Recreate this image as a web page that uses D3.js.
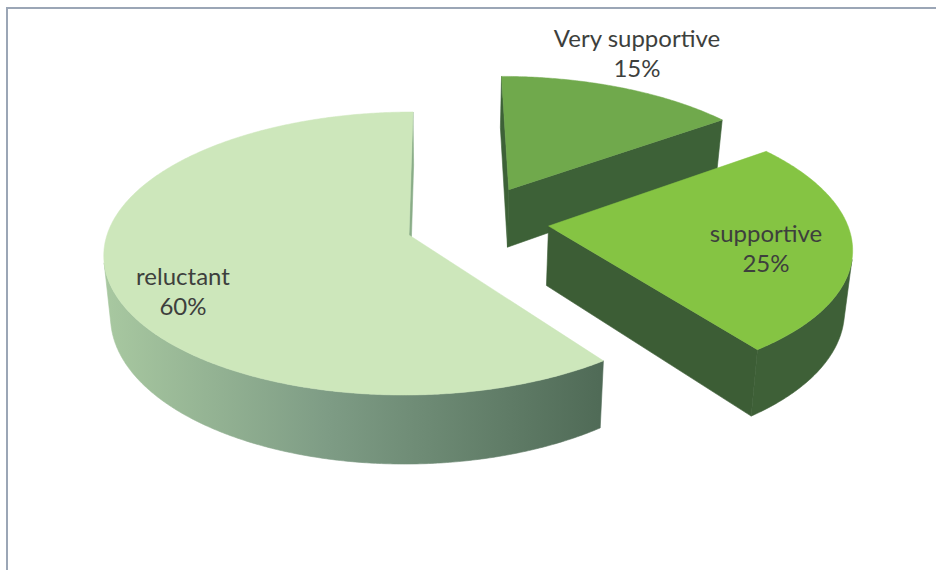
<!DOCTYPE html>
<html>
<head>
<meta charset="utf-8">
<script src="https://cdn.jsdelivr.net/npm/d3@7"></script>
<style>
  html, body { margin: 0; padding: 0; background: #fff; }
  svg { display: block; }
</style>
</head>
<body>
<svg id="chart" width="936" height="570"></svg>
<script>
// Attitude survey shares
const categories = ["Very supportive", "supportive", "reluctant"];
const shares = [15, 25, 60];
const valueLabels = ["15%", "25%", "60%"];

// Slice colours: top face, outer wall and radial cut faces
const topColors = ["#70a94c", "#85c443", "#cde7bb"];
const sideColors = ["#3f6339", "#3e6037", "url(#reluctantWall)"];
const cutColors = ["#3d6137", "#3c5d35", "#8aad88"];

const svg = d3.select("#chart");

// Perspective view of the pie plane: (u, v) are disc units, v grows toward the viewer.
const view = { x0: 443.6, y0: 235, a: 302, b: -34.6, c: 139.1, g: -0.1307, depth: 60, lean: 0.98 };
function topPt(u, v) {
  const w = 1 + view.g * v;
  return [view.x0 + (view.a * u + view.b) / w, view.y0 + view.c * v / w];
}
function botPt(u, v) {
  const w = 1 + view.g * v;
  const p = topPt(u, v);
  return [view.x0 + (p[0] - view.x0) * view.lean, p[1] + view.depth / w];
}

// Exploded placement of each slice on the pie plane
const shift = {
  "Very supportive": [0.34, -0.34],
  "supportive": [0.465, -0.065],
  "reluctant": [0, 0]
};

// Label anchors (screen) for the two-line data labels
const labelAt = {
  "Very supportive": [637, 47],
  "supportive": [766, 242],
  "reluctant": [183, 285]
};

const defs = svg.append("defs");
const grad = defs.append("linearGradient")
  .attr("id", "reluctantWall")
  .attr("gradientUnits", "userSpaceOnUse")
  .attr("x1", 100).attr("y1", 0).attr("x2", 605).attr("y2", 0);
grad.append("stop").attr("offset", 0).attr("stop-color", "#a9c9a1");
grad.append("stop").attr("offset", 0.45).attr("stop-color", "#7e9c85");
grad.append("stop").attr("offset", 1).attr("stop-color", "#4f6a56");

// Chart frame
svg.append("path")
  .attr("d", "M7,572V8H938")
  .attr("fill", "none")
  .attr("stroke", "#9ba6b6")
  .attr("stroke-width", 2);

const pie = d3.pie().sort(null).value(d => d.value).startAngle(0).endAngle(2 * Math.PI);
const arcs = pie(categories.map((name, i) => ({ name, value: shares[i], i })));

const line = d3.line();
function signedArea(pts) {
  let s = 0;
  for (let k = 0; k < pts.length; k++) {
    const p = pts[k], q = pts[(k + 1) % pts.length];
    s += p[0] * q[1] - q[0] * p[1];
  }
  return s;
}
function drawFace(g, pts, fill) {
  g.append("path")
    .attr("d", line(pts) + "Z")
    .attr("fill", fill)
    .attr("stroke", fill)
    .attr("stroke-width", 0.6)
    .attr("stroke-linejoin", "round");
}

const gPie = svg.append("g");

arcs.forEach(arc => {
  const d = arc.data;
  const [su, sv] = shift[d.name];
  const g = gPie.append("g").attr("class", "slice");
  const a0 = arc.startAngle, a1 = arc.endAngle;
  const n = Math.max(8, Math.ceil((a1 - a0) / (Math.PI / 360)));
  const ring = d3.range(n + 1).map(k => {
    const t = a0 + (a1 - a0) * k / n;
    return [su + Math.sin(t), sv - Math.cos(t)];
  });
  const centre = [su, sv];

  // Radial cut faces (only those turned toward the viewer)
  const cuts = [
    [topPt(...centre), topPt(...ring[0]), botPt(...ring[0]), botPt(...centre)],
    [topPt(...ring[n]), topPt(...centre), botPt(...centre), botPt(...ring[n])]
  ];
  cuts.filter(p => signedArea(p) < 0).forEach(p => drawFace(g, p, cutColors[d.i]));

  // Outer wall: merge consecutive visible segments into single bands
  const visible = d3.range(n).map(k =>
    signedArea([topPt(...ring[k]), topPt(...ring[k + 1]), botPt(...ring[k + 1]), botPt(...ring[k])]) < 0);
  let k = 0;
  while (k < n) {
    if (!visible[k]) { k++; continue; }
    const start = k;
    while (k < n && visible[k]) k++;
    const run = ring.slice(start, k + 1);
    const band = run.map(p => topPt(...p)).concat(run.slice().reverse().map(p => botPt(...p)));
    drawFace(g, band, sideColors[d.i]);
  }

  // Top face
  const topPts = [topPt(...centre)].concat(ring.map(p => topPt(...p)));
  g.append("path")
    .attr("d", line(topPts) + "Z")
    .attr("fill", topColors[d.i])
    .attr("stroke", topColors[d.i])
    .attr("stroke-width", 0.5);
});

// Data labels
arcs.forEach(arc => {
  const d = arc.data;
  const [lx, ly] = labelAt[d.name];
  const t = svg.append("text")
    .attr("x", lx).attr("y", ly)
    .attr("text-anchor", "middle")
    .attr("font-family", "Lato, 'Open Sans', sans-serif")
    .attr("font-size", 24)
    .attr("fill", "#3d3f3d");
  t.append("tspan").attr("x", lx).text(d.name);
  t.append("tspan").attr("x", lx).attr("dy", 30).text(valueLabels[d.i]);
});
</script>
</body>
</html>
